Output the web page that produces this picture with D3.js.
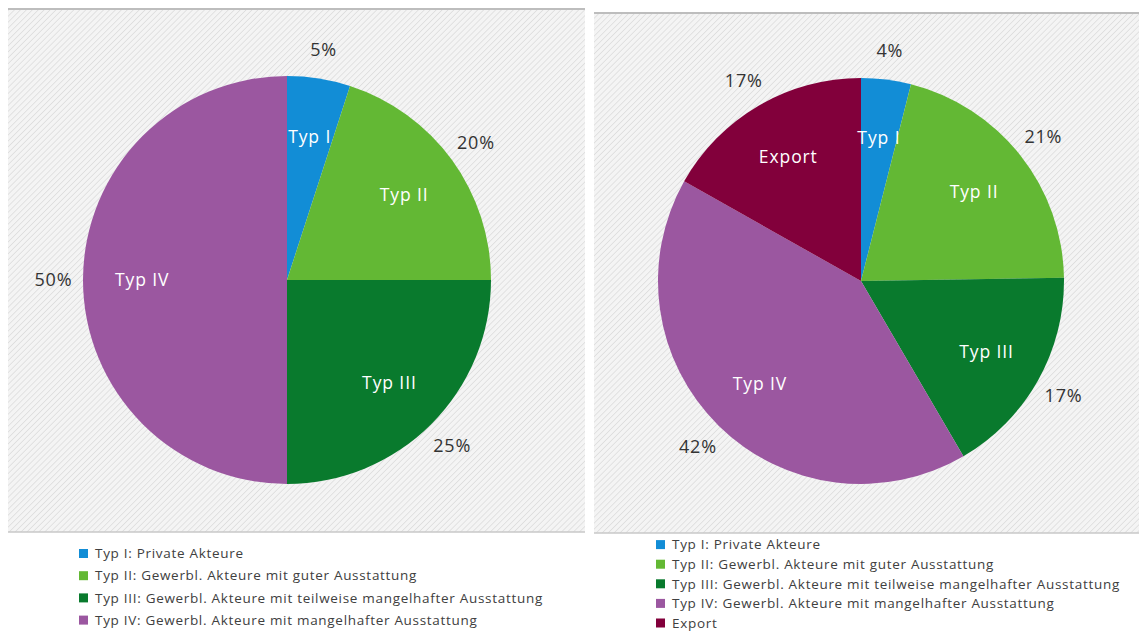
<!DOCTYPE html>
<html>
<head>
<meta charset="utf-8">
<script src="https://cdn.jsdelivr.net/npm/d3@7"></script>
<style>
  html, body { margin: 0; padding: 0; background: #ffffff; }
  svg { display: block; }
</style>
</head>
<body>
<svg id="chart" width="1139" height="631"></svg>
<script>
// Anteile je Akteurstyp (links: ohne Export, rechts: mit Export)
const leftCategories = ["Typ I", "Typ II", "Typ III", "Typ IV"];
const leftValues = [5, 20, 25, 50];
const leftLegend = [
  "Typ I: Private Akteure",
  "Typ II: Gewerbl. Akteure mit guter Ausstattung",
  "Typ III: Gewerbl. Akteure mit teilweise mangelhafter Ausstattung",
  "Typ IV: Gewerbl. Akteure mit mangelhafter Ausstattung"
];

const rightCategories = ["Typ I", "Typ II", "Typ III", "Typ IV", "Export"];
const rightValues = [4, 21, 17, 42, 17];
const rightLegend = [
  "Typ I: Private Akteure",
  "Typ II: Gewerbl. Akteure mit guter Ausstattung",
  "Typ III: Gewerbl. Akteure mit teilweise mangelhafter Ausstattung",
  "Typ IV: Gewerbl. Akteure mit mangelhafter Ausstattung",
  "Export"
];

const categoryColors = ["#128dd6", "#63b834", "#097a2d", "#9b57a0", "#82003b"];

const color = d3.scaleOrdinal()
  .domain(rightCategories)
  .range(categoryColors);

const FONT = "'Open Sans', Lato, 'DejaVu Sans', sans-serif";

const svg = d3.select("#chart");

// diagonal hatch used as plot-area fill
const defs = svg.append("defs");
const pat = defs.append("pattern")
  .attr("id", "hatch")
  .attr("patternUnits", "userSpaceOnUse")
  .attr("width", 4.2)
  .attr("height", 4.2)
  .attr("patternTransform", "rotate(45)");
pat.append("rect").attr("width", 4.2).attr("height", 4.2).attr("fill", "#f4f4f4");
pat.append("line")
  .attr("x1", 0).attr("y1", 0).attr("x2", 0).attr("y2", 4.2)
  .attr("stroke", "#dadada").attr("stroke-width", 1.4);

const panels = [
  {
    categories: leftCategories, values: leftValues, legend: leftLegend,
    box: { x: 8, y: 9, w: 577, h: 523 },
    cx: 287, cy: 280, r: 204,
    legendX: 79, legendY: 553.5, legendStep: 22.2
  },
  {
    categories: rightCategories, values: rightValues, legend: rightLegend,
    box: { x: 594, y: 13, w: 545, h: 520 },
    cx: 861, cy: 281, r: 203,
    legendX: 656, legendY: 544.6, legendStep: 19.6
  }
];

const pie = d3.pie().sort(null).value(d => d.value);

panels.forEach(p => {
  const g = svg.append("g");
  const b = p.box;

  // plot area
  g.append("rect")
    .attr("x", b.x).attr("y", b.y).attr("width", b.w).attr("height", b.h)
    .attr("fill", "url(#hatch)");
  g.append("line")
    .attr("x1", b.x).attr("x2", b.x + b.w).attr("y1", b.y).attr("y2", b.y)
    .attr("stroke", "#bdbdbd").attr("stroke-width", 2);
  g.append("line")
    .attr("x1", b.x).attr("x2", b.x + b.w).attr("y1", b.y + b.h).attr("y2", b.y + b.h)
    .attr("stroke", "#c8c8c8").attr("stroke-width", 1.5);

  const data = p.categories.map((c, i) => ({ category: c, value: p.values[i] }));
  const arcs = pie(data);

  const arc = d3.arc().innerRadius(0).outerRadius(p.r);
  const innerLabelArc = d3.arc().innerRadius(p.r * 0.71).outerRadius(p.r * 0.71);
  const outerLabelArc = d3.arc().innerRadius(p.r * 1.145).outerRadius(p.r * 1.145);

  const pieG = g.append("g").attr("transform", `translate(${p.cx},${p.cy})`);

  pieG.selectAll("path.slice")
    .data(arcs)
    .join("path")
    .attr("class", "slice")
    .attr("d", arc)
    .attr("fill", d => color(d.data.category));

  // category names inside the slices
  pieG.selectAll("text.inner")
    .data(arcs)
    .join("text")
    .attr("class", "inner")
    .attr("transform", d => `translate(${innerLabelArc.centroid(d)})`)
    .attr("text-anchor", "middle")
    .attr("dy", "0.36em")
    .attr("fill", "#ffffff")
    .style("font-family", FONT)
    .style("font-size", "17.5px")
    .style("letter-spacing", "0.9px")
    .text(d => d.data.category);

  // percentage labels outside
  pieG.selectAll("text.outer")
    .data(arcs)
    .join("text")
    .attr("class", "outer")
    .attr("transform", d => `translate(${outerLabelArc.centroid(d)})`)
    .attr("text-anchor", "middle")
    .attr("dy", "0.36em")
    .attr("fill", "#333333")
    .style("font-family", FONT)
    .style("font-size", "18px")
    .style("letter-spacing", "0.8px")
    .text(d => d.data.value + "%");

  // legend
  const lg = g.append("g");
  const items = lg.selectAll("g.item")
    .data(p.legend)
    .join("g")
    .attr("class", "item")
    .attr("transform", (d, i) => `translate(${p.legendX},${p.legendY + i * p.legendStep})`);
  items.append("rect")
    .attr("x", 0).attr("y", -4.5).attr("width", 9).attr("height", 9)
    .attr("fill", (d, i) => color(p.categories[i]));
  items.append("text")
    .attr("x", 16)
    .attr("dy", "0.35em")
    .attr("fill", "#404040")
    .style("font-family", FONT)
    .style("font-size", "13.5px")
    .style("letter-spacing", "0.7px")
    .text(d => d);
});
</script>
</body>
</html>
